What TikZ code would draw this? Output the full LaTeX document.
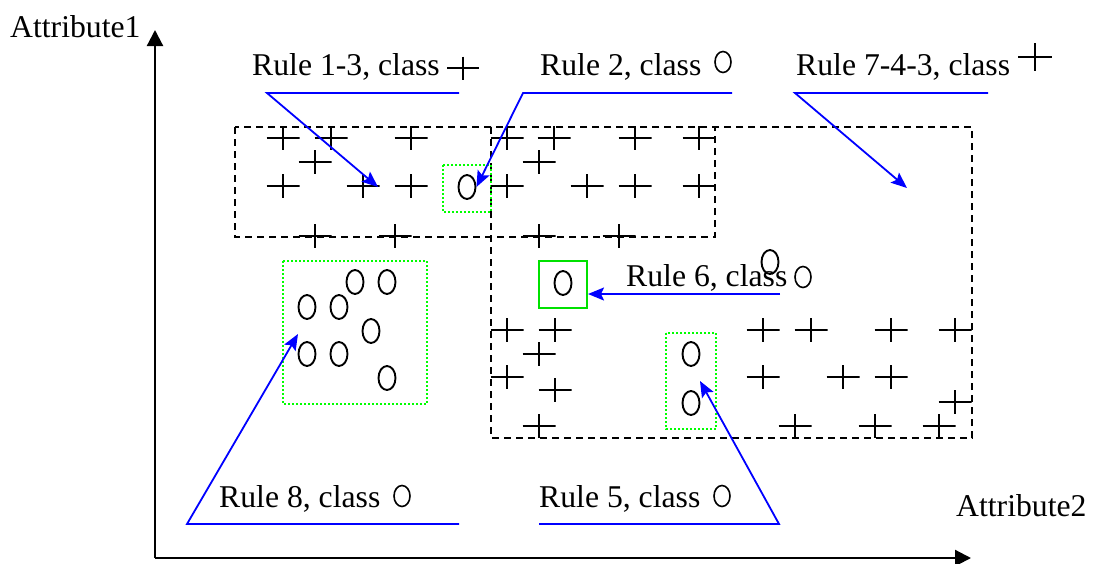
\documentclass[tikz,border=0pt]{standalone}
\usepackage{fontspec}
\setmainfont{Liberation Serif}
\usetikzlibrary{shapes.geometric,arrows.meta}
\definecolor{rblue}{RGB}{0,0,255}
\definecolor{dgreen}{RGB}{0,255,0}
\definecolor{sgreen}{RGB}{0,225,0}
\begin{document}
\begin{tikzpicture}[x=1pt,y=-1pt,
 lbl/.style={anchor=base west, inner sep=0pt, font=\fontsize{31.7}{36}\selectfont},
 plusm/.style={minimum width=33pt, minimum height=24pt, inner sep=0pt, outer sep=0pt,
   path picture={\draw[line width=2pt] (path picture bounding box.west) -- (path picture bounding box.east)
   (path picture bounding box.north) -- (path picture bounding box.south);}},
 ovalm/.style={ellipse, draw, line width=1.9pt, minimum width=17pt, minimum height=24pt, inner sep=0pt},
 symo/.style={ovalm, minimum width=16pt, minimum height=21pt, line width=1.6pt},
 dashbox/.style={draw, dash pattern=on 7pt off 5pt, line width=1.6pt},
 dotbox/.style={draw=dgreen, dash pattern=on 2pt off 2pt, line width=1.7pt},
 callout/.style={draw=rblue, line width=1.8pt, -{Stealth[length=16pt,width=13pt,inset=3pt]}, fill=none},
 axisarr/.style={line width=2.2pt, -{Triangle[length=16pt,width=16pt]}}
]
\useasboundingbox (0,0) rectangle (1093,563);

% axes
\coordinate (O) at (155,558);
\coordinate (ytip) at (155,30);
\coordinate (xtip) at (971,558);
\draw[axisarr] (O) -- (ytip);
\draw[axisarr] (O) -- (xtip);
\node[lbl] (a1) at (10,37) {Attribute1};
\node[lbl] (a2) at (956,516) {Attribute2};

% rule regions
\draw[dashbox] (235,127) rectangle (715,237);
\draw[dashbox] (491,127) rectangle (972,438);
\draw[dotbox] (283,261) rectangle (427,404);
\draw[dotbox] (443,165) rectangle (491,212);
\draw[dotbox] (666,333) rectangle (716,429);
\node[draw=sgreen, line width=2pt, minimum width=48pt, minimum height=47pt, inner sep=0pt] (g6) at (563,284.5) {};

% plus markers
\foreach \x/\y [count=\i] in {283/138,331/138,315/162,283/186,363/186,315/236,395/236,
  411/138,411/186,507/138,554/138,539/162,507/186,587/186,635/186,635/138,699/138,699/186,539/236,619/236,
  507/330,555/330,539/354,507/377,555/390,539/426,
  763/330,811/330,891/330,955/330,763/377,843/377,891/377,955/402,795/426,875/426,939/426}
  \node[plusm] (p\i) at (\x,\y) {};

% oval markers
\foreach \x/\y [count=\i] in {307/307,339/307,355/282,387/282,371/331,307/354,339/354,387/378,
  691/354,691/403,770/262}
  \node[ovalm] (o\i) at (\x,\y) {};
\node[ovalm] (c2) at (467,187) {};
\node[ovalm] (c6) at (563,283) {};

% labels
\node[lbl] (t13) at (252,75) {Rule 1-3, class};
\node[plusm, minimum width=32pt, minimum height=23pt] (s13) at (463,68) {};
\node[lbl] (t2) at (540,75) {Rule 2, class};
\node[symo] (s2) at (723,62) {};
\node[lbl] (t743) at (796,75) {Rule 7-4-3, class};
\node[plusm, minimum width=34pt, minimum height=28pt] (s743) at (1035,57) {};
\node[lbl] (t6) at (626,286) {Rule 6, class};
\node[symo] (s6) at (803,277) {};
\node[lbl] (t8) at (219,507) {Rule 8, class};
\node[symo] (s8) at (402,496) {};
\node[lbl] (t5) at (539,507) {Rule 5, class};
\node[symo] (s5) at (722,496) {};

% callouts
\coordinate (u13a) at (267,93);  \coordinate (u13b) at (459,93);  \coordinate (k13) at (378,187);
\coordinate (u2a) at (523,93);   \coordinate (u2b) at (732,93);
\coordinate (u7a) at (795,93);   \coordinate (u7b) at (988,93);   \coordinate (k7) at (907,188);
\coordinate (u8a) at (187,524);  \coordinate (u8b) at (459,524);  \coordinate (k8) at (298,334);
\coordinate (u5a) at (539,524);  \coordinate (u5b) at (779,524);  \coordinate (k5) at (700,381);
\coordinate (u6) at (780,294);

\draw[callout] (u13b) -- (u13a) -- (k13);
\draw[callout] (u2b) -- (u2a) -- (c2.east);
\draw[callout] (u7b) -- (u7a) -- (k7);
\draw[callout] (u8b) -- (u8a) -- (k8);
\draw[callout] (u5a) -- (u5b) -- (k5);
\draw[callout] (u6) -- (g6.east |- u6);
\end{tikzpicture}
\end{document}
